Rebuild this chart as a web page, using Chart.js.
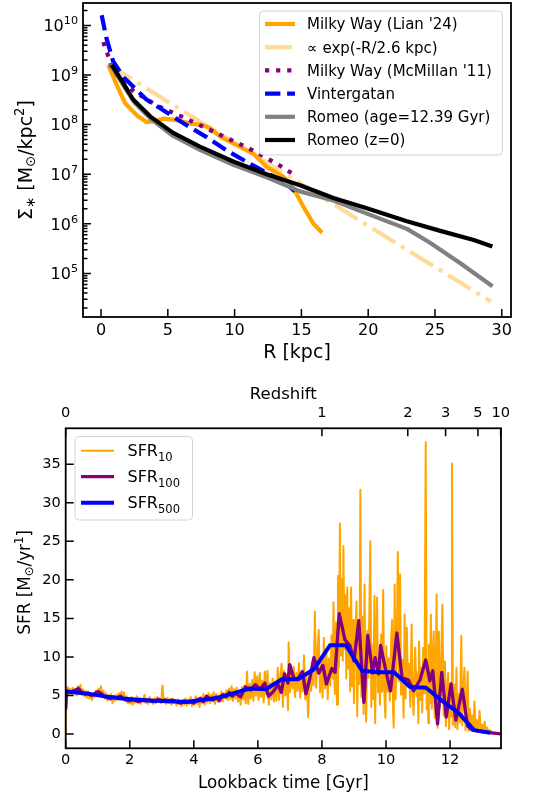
<!DOCTYPE html>
<html>
<head>
<meta charset="utf-8">
<script src="https://cdn.jsdelivr.net/npm/chart.js@4.4.0/dist/chart.umd.min.js"></script>
<style>
  html, body { margin: 0; padding: 0; background: #fff; }
  .panel { position: absolute; left: 0; }
</style>
</head>
<body>
<div class="panel" style="top:0"><canvas id="profileCanvas" width="533" height="370"></canvas></div>
<div class="panel" style="top:370px"><canvas id="sfrCanvas" width="533" height="428"></canvas></div>
<script>
// ---------- top panel: stellar surface density profiles ----------
const radiusTicks = [0, 5, 10, 15, 20, 25, 30];
const sigmaDecades = [5, 6, 7, 8, 9, 10];

const lianR = [0.55, 1.17, 1.8, 2.67, 3.42, 4.17, 4.67, 5.67, 6.66, 7.41, 8.16, 8.91, 9.9, 11.4, 12.4, 13.65, 14.4, 15.15, 15.9, 16.55];
const lianSigma = [1.6e9, 6.3e8, 2.7e8, 1.55e8, 1.12e8, 1.2e8, 1.32e8, 1.23e8, 1.05e8, 1.0e8, 8.5e7, 5.75e7, 4.2e7, 2.6e7, 1.4e7, 8.9e6, 5.25e6, 2.2e6, 1.0e6, 6.6e5];

const expR = [0.6, 5, 10, 15, 20, 25, 29.2];
const expSigma = [1.6e9, 2.9e8, 4.3e7, 6.3e6, 9.1e5, 1.35e5, 2.7e4];

const mcmillanR = [0.17, 0.5, 0.8, 1.5, 2.5, 4.2, 6.3, 8.6, 10.9, 13.1, 14.4];
const mcmillanSigma = [4.6e9, 2.6e9, 1.4e9, 7.6e8, 4.6e8, 2.4e8, 1.35e8, 6.8e7, 3.5e7, 1.66e7, 1.0e7];

const vintergatanR = [0.05, 0.4, 0.9, 1.7, 2.5, 3.4, 4.6, 6.2, 7.9, 9.5, 11.2, 12.6, 13.7, 14.5];
const vintergatanSigma = [1.6e10, 5.6e9, 1.9e9, 8.9e8, 5.5e8, 3.2e8, 2.0e8, 1.05e8, 5.6e7, 2.9e7, 1.6e7, 1.0e7, 7.1e6, 4.5e6];

const romeoOldR = [0.7, 1.7, 2.5, 3.7, 5.4, 7.4, 9.9, 12.4, 14.9, 17.4, 19.9, 22.9, 24.6, 26.9, 29.3];
const romeoOldSigma = [1.66e9, 6.0e8, 2.8e8, 1.32e8, 5.9e7, 3.1e7, 1.55e7, 8.7e6, 4.5e6, 2.95e6, 1.6e6, 7.9e5, 4.2e5, 1.6e5, 5.5e4];

const romeoR = [0.8, 1.7, 2.4, 3.7, 5.4, 7.4, 9.9, 12.4, 14.9, 17.4, 19.9, 22.9, 25.4, 27.9, 29.3];
const romeoSigma = [1.6e9, 6.6e8, 3.2e8, 1.45e8, 6.8e7, 3.6e7, 1.8e7, 1.0e7, 6.0e6, 3.3e6, 2.05e6, 1.12e6, 7.2e5, 4.7e5, 3.5e5];

// ---------- bottom panel: star formation history ----------
const lookbackTicks = [0, 2, 4, 6, 8, 10, 12];
const sfrTicks = [0, 5, 10, 15, 20, 25, 30, 35];
const redshiftLabels = ['0', '1', '2', '3', '5', '10'];
const redshiftLookback = [0, 8.0, 10.68, 11.86, 12.87, 13.58];

const sfr10Time = [
  0.00, 0.02, 0.06, 0.10, 0.14, 0.18, 0.22, 0.26, 0.30, 0.34,
  0.38, 0.42, 0.46, 0.50, 0.54, 0.58, 0.62, 0.66, 0.70, 0.74,
  0.78, 0.82, 0.86, 0.90, 0.94, 0.98, 1.02, 1.06, 1.10, 1.14,
  1.18, 1.22, 1.26, 1.30, 1.34, 1.38, 1.42, 1.46, 1.50, 1.54,
  1.58, 1.62, 1.66, 1.70, 1.74, 1.78, 1.82, 1.86, 1.90, 1.94,
  1.98, 2.02, 2.06, 2.10, 2.14, 2.18, 2.22, 2.26, 2.30, 2.34,
  2.38, 2.42, 2.46, 2.50, 2.54, 2.58, 2.62, 2.66, 2.70, 2.74,
  2.78, 2.82, 2.86, 2.90, 2.94, 2.98, 3.02, 3.06, 3.10, 3.14,
  3.18, 3.22, 3.26, 3.30, 3.34, 3.38, 3.42, 3.46, 3.50, 3.54,
  3.58, 3.62, 3.66, 3.70, 3.74, 3.78, 3.82, 3.86, 3.90, 3.94,
  3.98, 4.02, 4.06, 4.10, 4.14, 4.18, 4.22, 4.26, 4.30, 4.34,
  4.38, 4.42, 4.46, 4.50, 4.54, 4.58, 4.62, 4.66, 4.70, 4.74,
  4.78, 4.82, 4.86, 4.90, 4.94, 4.98, 5.02, 5.06, 5.10, 5.14,
  5.18, 5.22, 5.26, 5.30, 5.34, 5.38, 5.42, 5.46, 5.50, 5.54,
  5.58, 5.62, 5.66, 5.70, 5.74, 5.78, 5.82, 5.86, 5.90, 5.94,
  5.98, 6.02, 6.06, 6.10, 6.14, 6.18, 6.22, 6.26, 6.30, 6.34,
  6.38, 6.42, 6.46, 6.50, 6.54, 6.58, 6.62, 6.66, 6.70, 6.74,
  6.78, 6.82, 6.86, 6.90, 6.94, 6.96, 7.00, 7.04, 7.08, 7.12,
  7.16, 7.20, 7.24, 7.28, 7.32, 7.36, 7.40, 7.44, 7.48, 7.52,
  7.57, 7.62, 7.66, 7.70, 7.74, 7.78, 7.82, 7.86, 7.90, 7.94,
  7.98, 8.02, 8.06, 8.10, 8.14, 8.18, 8.22, 8.26, 8.30, 8.34,
  8.36, 8.40, 8.44, 8.47, 8.50, 8.53, 8.56, 8.59, 8.62, 8.65,
  8.67, 8.70, 8.73, 8.76, 8.79, 8.82, 8.85, 8.88, 8.91, 8.94,
  8.97, 9.00, 9.04, 9.08, 9.10, 9.14, 9.17, 9.20, 9.23, 9.26,
  9.30, 9.33, 9.36, 9.38, 9.42, 9.45, 9.48, 9.51, 9.54, 9.57,
  9.60, 9.64, 9.66, 9.69, 9.72, 9.75, 9.78, 9.81, 9.85, 9.88,
  9.91, 9.94, 9.98, 10.01, 10.05, 10.08, 10.12, 10.16, 10.19, 10.22,
  10.24, 10.27, 10.30, 10.33, 10.37, 10.40, 10.44, 10.47, 10.51, 10.55,
  10.58, 10.61, 10.65, 10.68, 10.72, 10.76, 10.80, 10.83, 10.86, 10.91,
  10.95, 10.98, 11.01, 11.03, 11.07, 11.10, 11.13, 11.16, 11.20, 11.24,
  11.27, 11.30, 11.32, 11.34, 11.37, 11.40, 11.43, 11.46, 11.49, 11.52,
  11.55, 11.58, 11.61, 11.65, 11.68, 11.72, 11.76, 11.80, 11.84, 11.87,
  11.90, 11.94, 11.97, 12.00, 12.03, 12.06, 12.09, 12.13, 12.16, 12.20,
  12.23, 12.27, 12.31, 12.35, 12.38, 12.42, 12.45, 12.48, 12.52, 12.55,
  12.58, 12.62, 12.66, 12.70, 12.73, 12.76, 12.80, 12.84, 12.88, 12.92,
  12.96, 13.00, 13.04, 13.08, 13.12, 13.16, 13.20, 13.25, 13.30, 13.40,
  13.50, 13.59
];
const sfr10Rate = [
  0.0, 5.8, 6.1, 5.2, 5.9, 5.1, 6.0, 5.3, 5.7, 5.0,
  6.2, 5.4, 6.4, 5.1, 5.8, 4.9, 5.6, 4.7, 5.5, 4.6,
  5.3, 4.4, 5.2, 4.8, 5.6, 5.0, 5.9, 5.2, 6.2, 5.0,
  5.6, 4.6, 5.3, 4.3, 5.0, 4.4, 5.2, 4.0, 4.9, 4.3,
  5.1, 4.4, 5.3, 4.6, 5.5, 4.5, 5.4, 4.2, 4.9, 4.0,
  4.7, 3.9, 4.8, 3.8, 4.6, 4.1, 4.9, 4.0, 4.7, 3.9,
  4.6, 4.2, 5.1, 4.0, 4.6, 3.9, 4.8, 4.1, 4.5, 3.9,
  4.7, 4.0, 4.8, 4.2, 4.5, 4.0, 6.3, 4.1, 4.6, 3.9,
  4.7, 4.0, 4.5, 3.8, 4.6, 4.0, 4.4, 3.7, 4.5, 3.9,
  4.3, 3.6, 4.4, 3.8, 4.6, 3.7, 4.5, 3.9, 4.8, 3.6,
  4.4, 3.8, 4.9, 3.9, 4.6, 3.5, 4.8, 4.0, 5.2, 3.8,
  5.0, 4.1, 5.3, 4.0, 5.1, 4.3, 5.4, 3.9, 5.2, 4.2,
  5.0, 4.4, 5.5, 4.2, 5.3, 4.6, 5.7, 4.4, 5.9, 4.5,
  6.2, 4.3, 5.8, 4.6, 6.0, 4.2, 5.5, 3.8, 6.1, 4.5,
  6.3, 4.0, 8.1, 3.9, 6.5, 4.6, 7.0, 4.3, 8.0, 5.0,
  7.5, 4.4, 7.9, 4.8, 6.9, 4.1, 8.1, 5.2, 8.2, 3.8,
  6.6, 4.5, 7.2, 4.2, 6.8, 4.3, 8.6, 4.4, 7.5, 9.1,
  3.5, 8.2, 5.0, 7.7, 3.1, 11.9, 5.4, 8.9, 5.9, 8.7,
  4.8, 7.9, 5.6, 9.2, 4.7, 8.1, 5.5, 10.2, 4.5, 7.5,
  2.2, 8.3, 5.6, 9.4, 6.3, 15.9, 6.0, 10.7, 13.5, 5.4,
  9.9, 4.7, 12.5, 5.9, 11.0, 4.5, 9.8, 6.3, 12.8, 7.2,
  17.1, 5.2, 14.5, 3.8, 20.5, 8.6, 27.3, 10.2, 20.1, 9.5,
  24.4, 11.0, 18.0, 7.2, 19.0, 8.5, 16.3, 5.5, 19.0, 6.2,
  14.8, 4.0, 12.5, 17.2, 2.3, 13.0, 6.5, 31.7, 4.8, 15.2,
  2.6, 19.4, 6.0, 1.6, 13.4, 7.3, 16.0, 25.0, 3.5, 11.5,
  4.5, 17.9, 1.4, 10.2, 17.7, 5.4, 9.0, 3.8, 12.9, 5.5,
  18.7, 6.2, 2.1, 11.4, 5.5, 9.8, 4.3, 12.3, 14.8, 3.0,
  0.8, 19.4, 4.5, 10.5, 23.6, 6.8, 20.7, 5.1, 9.6, 2.1,
  15.5, 4.6, 13.8, 6.2, 9.1, 3.5, 14.2, 5.7, 2.5, 11.2,
  4.9, 8.0, 1.4, 12.0, 4.4, 8.6, 2.8, 11.2, 5.3, 37.9,
  3.2, 7.4, 1.4, 11.6, 4.0, 15.5, 3.3, 9.8, 13.3, 2.1,
  7.0, 18.1, 0.8, 13.3, 3.4, 9.2, 16.8, 2.4, 9.4, 1.0,
  5.6, 7.9, 0.6, 4.8, 2.3, 35.1, 1.2, 6.4, 0.9, 8.6,
  0.6, 5.2, 1.5, 12.7, 1.1, 6.3, 8.6, 0.5, 4.4, 8.1,
  0.4, 3.3, 0.6, 2.4, 0.4, 4.2, 0.5, 1.8, 0.4, 3.0,
  0.5, 1.2, 0.3, 1.6, 0.3, 0.8, 0.2, 0.5, 0.15, 0.1,
  0.05, 0.0
];

const sfr100Time = [
  0.00, 0.03, 0.15, 0.30, 0.40, 0.50, 0.60, 0.70, 0.80, 0.90,
  1.00, 1.10, 1.20, 1.30, 1.40, 1.50, 1.60, 1.70, 1.80, 1.90,
  2.00, 2.10, 2.20, 2.30, 2.40, 2.50, 2.60, 2.70, 2.80, 2.90,
  3.00, 3.10, 3.20, 3.30, 3.40, 3.50, 3.60, 3.70, 3.80, 3.90,
  4.00, 4.10, 4.20, 4.30, 4.40, 4.50, 4.60, 4.70, 4.80, 4.90,
  5.00, 5.10, 5.20, 5.31, 5.46, 5.61, 5.77, 5.92, 6.07, 6.22,
  6.33, 6.48, 6.63, 6.73, 6.83, 6.94, 6.99, 7.12, 7.24, 7.39,
  7.50, 7.62, 7.75, 7.90, 8.03, 8.14, 8.31, 8.41, 8.54, 8.72,
  8.87, 9.00, 9.15, 9.31, 9.43, 9.58, 9.66, 9.77, 9.83, 9.99,
  10.14, 10.34, 10.50, 10.70, 10.86, 11.06, 11.24, 11.37, 11.46, 11.61,
  11.74, 11.88, 12.03, 12.18, 12.38, 12.55, 12.70, 13.00, 13.30, 13.59
];
const sfr100Rate = [
  3.2, 5.6, 5.4, 5.7, 5.9, 5.4, 5.2, 5.3, 5.0, 5.2,
  5.5, 5.3, 4.9, 4.7, 4.6, 4.8, 4.7, 4.9, 4.6, 4.4,
  4.3, 4.5, 4.3, 4.2, 4.4, 4.3, 4.4, 4.2, 4.3, 4.5,
  4.3, 4.4, 4.2, 4.4, 4.3, 4.1, 4.0, 4.3, 4.1, 4.2,
  4.0, 4.4, 4.6, 4.2, 4.9, 4.5, 4.4, 4.8, 4.3, 5.1,
  4.8, 5.4, 4.9, 5.3, 4.8, 6.1, 5.7, 6.4, 5.8, 6.6,
  4.9, 5.5, 6.4, 5.4, 7.8, 6.6, 9.0, 7.3, 7.1, 8.1,
  5.2, 7.2, 9.9, 7.9, 8.9, 6.5, 8.5, 8.0, 15.6, 12.2,
  11.5, 9.5, 14.7, 4.1, 12.8, 7.9, 9.9, 7.8, 11.5, 8.3,
  5.6, 13.1, 7.3, 7.0, 5.6, 7.0, 9.6, 6.9, 8.2, 1.3,
  8.0, 2.2, 6.5, 1.8, 5.8, 1.0, 0.5, 0.3, 0.15, 0.0
];

const sfr500Time = [0, 0.25, 0.75, 1.25, 1.75, 2.25, 2.75, 3.25, 3.75, 4.25, 4.75, 5.25, 5.75, 6.25, 6.75, 7.25, 7.75, 8.25, 8.75, 9.25, 9.75, 10.25, 10.75, 11.25, 11.75, 12.25, 12.75, 13.25];
const sfr500Rate = [5.5, 5.4, 5.2, 4.85, 4.6, 4.45, 4.3, 4.25, 4.15, 4.4, 4.7, 5.3, 5.9, 5.8, 7.1, 7.1, 8.4, 11.5, 11.5, 8.2, 8.0, 8.0, 6.1, 6.0, 4.3, 2.8, 0.5, 0.15];

const FONT = "'DejaVu Sans', sans-serif";
Chart.defaults.font.family = FONT;
Chart.defaults.color = '#000';

function toPoints(xs, ys) {
  return xs.map((x, i) => ({ x: x, y: ys[i] }));
}

// text made of pieces of different sizes (sub/superscripts)
function drawRich(ctx, parts, x, y, align) {
  let total = 0;
  parts.forEach(p => {
    ctx.font = p.size + 'px ' + FONT;
    p.w = ctx.measureText(p.t).width;
    total += p.w;
  });
  let cx = align === 'right' ? x - total : align === 'center' ? x - total / 2 : x;
  ctx.textAlign = 'left';
  ctx.textBaseline = 'alphabetic';
  parts.forEach(p => {
    ctx.font = p.size + 'px ' + FONT;
    ctx.fillText(p.t, cx, y + (p.dy || 0));
    cx += p.w;
  });
}

const SUBSCRIPTS = { '₀': '0', '₁': '1', '₂': '2', '₃': '3', '₄': '4', '₅': '5', '₆': '6', '₇': '7', '₈': '8', '₉': '9' };

function labelParts(text, size) {
  const parts = [];
  for (const ch of text) {
    const sub = SUBSCRIPTS[ch] !== undefined;
    const c = sub ? SUBSCRIPTS[ch] : ch;
    const last = parts[parts.length - 1];
    if (last && last.sub === sub) last.t += c;
    else parts.push({ t: c, sub: sub, size: sub ? size * 0.72 : size, dy: sub ? size * 0.26 : 0 });
  }
  return parts;
}

function drawLegend(chart, o) {
  const ctx = chart.ctx;
  ctx.save();
  ctx.beginPath();
  ctx.roundRect(o.x, o.y, o.w, o.h, 4);
  ctx.fillStyle = 'rgba(255,255,255,0.8)';
  ctx.fill();
  ctx.lineWidth = 1;
  ctx.strokeStyle = '#d4d4d4';
  ctx.stroke();
  chart.data.datasets.forEach((ds, i) => {
    const y = o.rowY + i * o.rowGap;
    ctx.beginPath();
    ctx.setLineDash(ds.borderDash || []);
    ctx.lineCap = 'butt';
    ctx.strokeStyle = ds.borderColor;
    ctx.lineWidth = ds.borderWidth;
    ctx.moveTo(o.handleX, y);
    ctx.lineTo(o.handleX + o.handleLen, y);
    ctx.stroke();
    ctx.setLineDash([]);
    ctx.fillStyle = '#000';
    drawRich(ctx, labelParts(ds.label, o.size), o.textX, y + o.size * 0.36);
  });
  ctx.restore();
}

// matplotlib-like frame with inward ticks
const axisFrame = {
  id: 'axisFrame',
  afterDraw(chart, args, opts) {
    const { ctx, chartArea: a, scales } = chart;
    ctx.save();
    ctx.strokeStyle = '#000';
    ctx.setLineDash([]);
    ctx.lineWidth = 1.5;
    ctx.beginPath();
    opts.marks.forEach(m => {
      const scale = scales[m.scale];
      m.values.forEach(v => {
        const p = scale.getPixelForValue(v);
        if (m.side === 'bottom') { ctx.moveTo(p, a.bottom); ctx.lineTo(p, a.bottom - m.len); }
        else if (m.side === 'top') { ctx.moveTo(p, a.top); ctx.lineTo(p, a.top + m.len); }
        else { ctx.moveTo(a.left, p); ctx.lineTo(a.left + m.len, p); }
      });
    });
    ctx.stroke();
    ctx.lineWidth = 1.8;
    ctx.strokeRect(a.left, a.top, a.right - a.left, a.bottom - a.top);
    ctx.fillStyle = '#000';
    if (opts.draw) opts.draw(chart);
    if (opts.legend) drawLegend(chart, opts.legend);
    ctx.restore();
  }
};

const sigmaMin = 1.32e4, sigmaMax = 2.83e10;
const sigmaMinor = [];
for (let e = 4; e <= 10; e++) {
  for (let k = 2; k <= 9; k++) {
    const v = k * Math.pow(10, e);
    if (v > sigmaMin && v < sigmaMax) sigmaMinor.push(v);
  }
}

const profileChart = new Chart(document.getElementById('profileCanvas'), {
  type: 'line',
  data: {
    datasets: [
      { label: "Milky Way (Lian '24)", data: toPoints(lianR, lianSigma), borderColor: '#ffa500', borderWidth: 4.2, order: 6 },
      { label: '∝ exp(-R/2.6 kpc)', data: toPoints(expR, expSigma), borderColor: 'rgba(255,165,0,0.4)', borderWidth: 4.2, borderDash: [26.7, 6.7, 4.2, 6.7], order: 5 },
      { label: "Milky Way (McMillan '11)", data: toPoints(mcmillanR, mcmillanSigma), borderColor: '#800080', borderWidth: 4.2, borderDash: [4.2, 6.9], order: 4 },
      { label: 'Vintergatan', data: toPoints(vintergatanR, vintergatanSigma), borderColor: '#0000ff', borderWidth: 4.2, borderDash: [15.4, 6.7], order: 3 },
      { label: 'Romeo (age=12.39 Gyr)', data: toPoints(romeoOldR, romeoOldSigma), borderColor: '#808080', borderWidth: 4.2, order: 2 },
      { label: 'Romeo (z=0)', data: toPoints(romeoR, romeoSigma), borderColor: '#000000', borderWidth: 4.2, order: 1 }
    ]
  },
  options: {
    responsive: false,
    animation: false,
    layout: { padding: { left: 0, right: 22, top: 3, bottom: 0 } },
    elements: { point: { radius: 0 }, line: { tension: 0, borderJoinStyle: 'round', borderCapStyle: 'butt' } },
    plugins: {
      legend: { display: false },
      tooltip: { enabled: false },
      axisFrame: {
        marks: [
          { scale: 'x', side: 'bottom', values: radiusTicks, len: 8 },
          { scale: 'y', side: 'left', values: sigmaDecades.map(e => Math.pow(10, e)), len: 8 },
          { scale: 'y', side: 'left', values: sigmaMinor, len: 4.5 }
        ],
        legend: { x: 259.5, y: 11, w: 243, h: 144, rowY: 24, rowGap: 23.2, handleX: 265, handleLen: 30, textX: 307, size: 15 },
        draw(chart) {
          const ctx = chart.ctx;
          const a = chart.chartArea;
          const y = chart.scales.y;
          sigmaDecades.forEach(e => {
            const p = y.getPixelForValue(Math.pow(10, e));
            drawRich(ctx, [{ t: '10', size: 16 }, { t: String(e), size: 11.2, dy: -7 }], a.left - 5, p + 5.8, 'right');
          });
          ctx.save();
          ctx.translate(32, (a.top + a.bottom) / 2);
          ctx.rotate(-Math.PI / 2);
          drawRich(ctx, [
            { t: 'Σ', size: 19 }, { t: '∗', size: 13.3, dy: 3 }, { t: ' [M', size: 19 },
            { t: '⊙', size: 13.3, dy: 3 }, { t: '/kpc', size: 19 }, { t: '2', size: 13.3, dy: -8 }, { t: ']', size: 19 }
          ], 0, 0, 'center');
          ctx.restore();
        }
      }
    },
    scales: {
      x: {
        type: 'linear', min: -1.35, max: 30.69,
        afterBuildTicks: s => { s.ticks = radiusTicks.map(v => ({ value: v })); },
        afterFit: s => { s.height = 53; },
        grid: { display: false, drawTicks: false },
        border: { display: false },
        ticks: { font: { size: 16 }, color: '#000', padding: 4, maxRotation: 0, autoSkip: false },
        title: { display: true, text: 'R [kpc]', font: { size: 19 }, color: '#000', padding: { top: 0, bottom: 6 } }
      },
      y: {
        type: 'logarithmic', min: sigmaMin, max: sigmaMax,
        afterFit: s => { s.width = 83; },
        grid: { display: false, drawTicks: false },
        border: { display: false },
        ticks: { display: false }
      }
    }
  },
  plugins: [axisFrame]
});

const sfrChart = new Chart(document.getElementById('sfrCanvas'), {
  type: 'line',
  data: {
    datasets: [
      { label: 'SFR₁₀', data: toPoints(sfr10Time, sfr10Rate), borderColor: '#ffa500', borderWidth: 2, order: 3 },
      { label: 'SFR₁₀₀', data: toPoints(sfr100Time, sfr100Rate), borderColor: '#800080', borderWidth: 3.3, order: 2 },
      { label: 'SFR₅₀₀', data: toPoints(sfr500Time, sfr500Rate), borderColor: '#0000ff', borderWidth: 4, order: 1 }
    ]
  },
  options: {
    responsive: false,
    animation: false,
    layout: { padding: { left: 0, right: 32, top: 0, bottom: 0 } },
    elements: { point: { radius: 0 }, line: { tension: 0, borderJoinStyle: 'round', borderCapStyle: 'butt' } },
    plugins: {
      legend: { display: false },
      tooltip: { enabled: false },
      axisFrame: {
        marks: [
          { scale: 'x', side: 'bottom', values: lookbackTicks, len: 8 },
          { scale: 'x2', side: 'top', values: redshiftLookback, len: 8 },
          { scale: 'y', side: 'left', values: sfrTicks, len: 8 }
        ],
        legend: { x: 75, y: 66.5, w: 117.5, h: 83.5, rowY: 80.7, rowGap: 26, handleX: 81, handleLen: 33, textX: 127.5, size: 16 },
        draw(chart) {
          const ctx = chart.ctx;
          const a = chart.chartArea;
          ctx.save();
          ctx.translate(30, (a.top + a.bottom) / 2 - 6);
          ctx.rotate(-Math.PI / 2);
          drawRich(ctx, [
            { t: 'SFR [M', size: 16.8 }, { t: '⊙', size: 11.8, dy: 3 }, { t: '/yr', size: 16.8 },
            { t: '1', size: 11.8, dy: -7 }, { t: ']', size: 16.8 }
          ], 0, 0, 'center');
          ctx.restore();
        }
      }
    },
    scales: {
      x: {
        type: 'linear', position: 'bottom', min: 0, max: 13.59,
        afterBuildTicks: s => { s.ticks = lookbackTicks.map(v => ({ value: v })); },
        afterFit: s => { s.height = 49.7; },
        grid: { display: false, drawTicks: false },
        border: { display: false },
        ticks: { font: { size: 14.6 }, color: '#000', padding: 3.5, maxRotation: 0, autoSkip: false },
        title: { display: true, text: 'Lookback time [Gyr]', font: { size: 16.8 }, color: '#000', padding: { top: 0, bottom: 4.6 } }
      },
      x2: {
        type: 'linear', axis: 'x', position: 'top', min: 0, max: 13.59,
        afterBuildTicks: s => { s.ticks = redshiftLookback.map(v => ({ value: v })); },
        afterFit: s => { s.height = 58.3; },
        grid: { display: false, drawTicks: false },
        border: { display: false },
        ticks: { font: { size: 14.6 }, color: '#000', padding: 6.2, maxRotation: 0, autoSkip: false,
                 callback: (v, i) => redshiftLabels[i] },
        title: { display: true, text: 'Redshift', font: { size: 16.5 }, color: '#000', padding: { top: 14.4, bottom: 0 } }
      },
      y: {
        type: 'linear', min: -1.86, max: 39.67,
        afterBuildTicks: s => { s.ticks = sfrTicks.map(v => ({ value: v })); },
        afterFit: s => { s.width = 65.7; },
        grid: { display: false, drawTicks: false },
        border: { display: false },
        ticks: { font: { size: 14.6 }, color: '#000', padding: 5 }
      }
    }
  },
  plugins: [axisFrame]
});
</script>
</body>
</html>
